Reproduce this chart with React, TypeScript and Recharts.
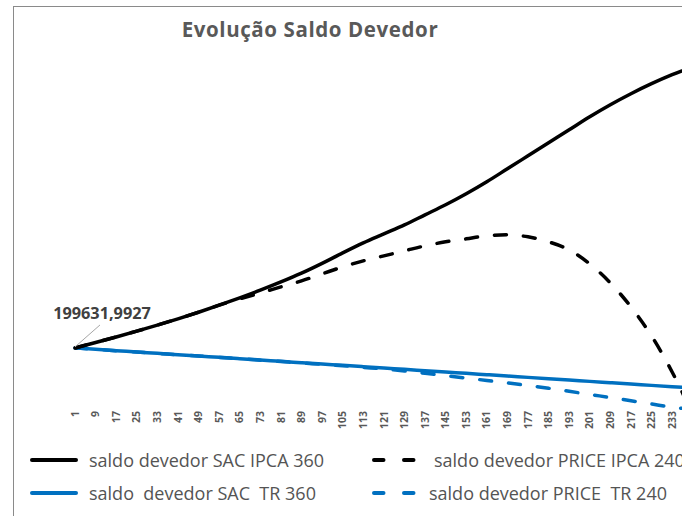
import { LabelList, Line, LineChart, XAxis, YAxis } from "recharts";

// months sampled (every 8th, plus the last PRICE month)
const months = [1, 9, 17, 25, 33, 41, 49, 57, 65, 73, 81, 89, 97, 105, 113, 121, 129, 137, 145, 153, 161, 169, 177, 185, 193, 201, 209, 217, 225, 233, 240, 241];

const sacIpca360 = [
  199632, 217630, 235630, 254620, 274250, 294870, 316470, 339380, 363270, 388470, 415300, 444110, 476180, 510540,
  543270, 572720, 602180, 634910, 667630, 703630, 742900, 785450, 828000, 870540, 913090, 955630, 994900, 1030900,
  1063630, 1093090, null, 1119270,
];
const priceIpca240 = [
  199632, 217630, 235630, 254620, 274250, 294870, 316470, 339380, 360000, 379630, 399270, 418910, 441810, 464720,
  484360, 500720, 517090, 533450, 546540, 556360, 566180, 569450, 562900, 546540, 520360, 474540, 412360, 333810,
  238900, 121090, 0, null,
];
const sacTr360 = [
  199632, 195380, 190800, 186540, 181960, 177710, 173450, 168870, 164620, 160360, 155780, 151530, 147270, 142690,
  138440, 134180, 129600, 125340, 121090, 116510, 112250, 108000, 103420, 99160, 94910, 90330, 86070, 81820, 77240,
  72980, null, 68730,
];
const priceTr240 = [
  199632, 195380, 190800, 186540, 181960, 177710, 173130, 168540, 164290, 159710, 155130, 150540, 145960, 141380,
  136140, 130910, 124360, 116830, 108980, 101130, 93270, 85090, 76910, 67740, 57930, 47450, 37640, 26840, 16360,
  5560, 0, null,
];

// tick labels that fall inside the visible part of the chart
const xTicks = [1, 9, 17, 25, 33, 41, 49, 57, 65, 73, 81, 89, 97, 105, 113, 121, 129, 137, 145, 153, 161, 169, 177, 185, 193, 201, 209, 217, 225, 233];

const data = months.map((month, i) => ({
  month,
  sacIpca: sacIpca360[i],
  priceIpca: priceIpca240[i],
  sacTr: sacTr360[i],
  priceTr: priceTr240[i],
}));

const BLUE = "#0070C0";
const GREY = "#595959";
const FONT = "'Open Sans', sans-serif";

function MonthTick({ x, y, payload }: any) {
  return (
    <g transform={`translate(${x},${y})`}>
      <text transform="rotate(-90)" x={-2} dy="0.35em" textAnchor="end" fill={GREY} fontSize={10.5} fontWeight={700} fontFamily={FONT}>
        {payload.value}
      </text>
    </g>
  );
}

function FirstValueLabel({ x, y, index }: any) {
  if (index !== 0) return null;
  return (
    <g>
      <line x1={x} y1={y - 1} x2={x + 25} y2={y - 23} stroke="#a6a6a6" strokeWidth={1} />
      <text x={x + 27} y={y - 29} textAnchor="middle" fill="#404040" fontSize={16.3} fontWeight={700} fontFamily={FONT}>
        199631,9927
      </text>
    </g>
  );
}

const legendText = { position: "absolute" as const, fontFamily: FONT, fontSize: 18, color: "#545454", whiteSpace: "pre" as const, lineHeight: "24px" };
const dashed = { strokeDasharray: "12 17", strokeLinecap: "round" as const };

export default function App() {
  return (
    <div style={{ position: "fixed", left: 0, top: 0, width: 682, height: 516, overflow: "hidden", background: "#fff" }}>
      <div style={{ position: "absolute", left: 13, top: 6, width: 2000, height: 1000, borderLeft: "1px solid #8a8a8a", borderTop: "1px solid #8a8a8a" }} />
      <div style={{ position: "absolute", left: 0, top: 0 }}>
        <LineChart width={1010} height={516} data={data} margin={{ top: 42, right: 11, bottom: 77, left: 75 }}>
          <XAxis
            dataKey="month"
            type="number"
            domain={[1, 360]}
            ticks={xTicks}
            interval={0}
            axisLine={false}
            tickLine={false}
            tickSize={0}
            tickMargin={0}
            height={30}
            tick={<MonthTick />}
          />
          <YAxis hide width={0} domain={[0, 1200000]} />
          <Line type="monotone" dataKey="sacTr" stroke={BLUE} strokeWidth={3.5} dot={false} activeDot={false} connectNulls isAnimationActive={false} />
          <Line type="monotone" dataKey="priceTr" stroke={BLUE} strokeWidth={3.5} {...dashed} dot={false} activeDot={false} connectNulls isAnimationActive={false} />
          <Line type="monotone" dataKey="priceIpca" stroke="#000" strokeWidth={3.5} {...dashed} dot={false} activeDot={false} connectNulls isAnimationActive={false} />
          <Line type="monotone" dataKey="sacIpca" stroke="#000" strokeWidth={3.5} dot={false} activeDot={false} connectNulls isAnimationActive={false}>
            <LabelList dataKey="sacIpca" content={<FirstValueLabel />} />
          </Line>
        </LineChart>
      </div>
      <div style={{ position: "absolute", left: 0, width: 620, top: 15, textAlign: "center", fontFamily: FONT, fontSize: 20.5, letterSpacing: 0.6, fontWeight: 700, color: GREY, lineHeight: "28px" }}>
        Evolução Saldo Devedor
      </div>
      <svg width={682} height={516} style={{ position: "absolute", left: 0, top: 0 }}>
        <line x1={32} y1={460} x2={76} y2={460} stroke="#000" strokeWidth={4} strokeLinecap="round" />
        <line x1={374} y1={460} x2={414} y2={460} stroke="#000" strokeWidth={4} strokeLinecap="round" strokeDasharray="9.5 20.5" />
        <line x1={32} y1={493} x2={76} y2={493} stroke={BLUE} strokeWidth={4} strokeLinecap="round" />
        <line x1={374} y1={493} x2={414} y2={493} stroke={BLUE} strokeWidth={4} strokeLinecap="round" strokeDasharray="9.5 20.5" />
      </svg>
      <div style={{ ...legendText, left: 89, top: 448 }}>saldo devedor SAC IPCA 360</div>
      <div style={{ ...legendText, left: 434, top: 448 }}>saldo devedor PRICE IPCA 240</div>
      <div style={{ ...legendText, left: 89, top: 481 }}>saldo  devedor SAC  TR 360</div>
      <div style={{ ...legendText, left: 429, top: 481 }}>saldo devedor PRICE  TR 240</div>
    </div>
  );
}
